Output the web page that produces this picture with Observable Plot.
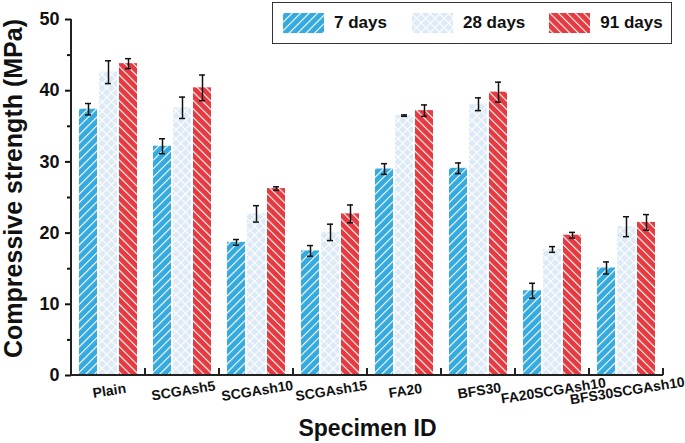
<!DOCTYPE html>
<html>
<head>
<meta charset="utf-8">
<script src="https://cdn.jsdelivr.net/npm/d3@7"></script>
<script src="https://cdn.jsdelivr.net/npm/@observablehq/plot@0.6"></script>
<style>
  body { margin: 0; background: #fff; font-family: "Liberation Sans", Arial, sans-serif; }
  #chart { position: relative; width: 685px; height: 443px; }
  #chart svg g[aria-label="y-axis tick label"] text { font-size: 18px; font-weight: bold; }
  #chart svg g[aria-label="y-axis label"] text { font-size: 25px; font-weight: bold; }
  #chart svg g[aria-label="fx-axis tick label"] text { font-size: 14px; font-weight: bold; }
  #chart svg g[aria-label="fx-axis label"] text { font-size: 23px; font-weight: bold; }
  #legend {
    position: absolute; left: 272px; top: 2px; width: 398px; height: 40px;
    border: 1.5px solid #333; background: #fff;
    display: flex; align-items: center;
    font-weight: bold; font-size: 17px; color: #111; white-space: nowrap;
  }
  #legend .item { display: flex; align-items: center; }
  #legend svg { margin-right: 10px; }
</style>
</head>
<body>
<div id="chart"></div>
<script>
const specimens = ["Plain", "SCGAsh5", "SCGAsh10", "SCGAsh15", "FA20", "BFS30", "FA20SCGAsh10", "BFS30SCGAsh10"];
const ages = ["7 days", "28 days", "91 days"];

const mean7 = [37.4, 32.2, 18.7, 17.5, 29.0, 29.1, 11.9, 15.1];
const mean28 = [42.6, 37.6, 22.7, 20.1, 36.5, 38.1, 17.7, 20.9];
const mean91 = [43.8, 40.4, 26.25, 22.7, 37.2, 39.8, 19.7, 21.5];

const sd7 = [0.8, 1.05, 0.4, 0.75, 0.75, 0.75, 1.05, 0.85];
const sd28 = [1.6, 1.5, 1.15, 1.15, 0.1, 0.9, 0.4, 1.4];
const sd91 = [0.7, 1.8, 0.25, 1.25, 0.8, 1.4, 0.4, 1.1];

const yTicks = [0, 10, 20, 30, 40, 50];
const yMinor = [5, 15, 25, 35, 45];

const colors = ["#35aade", "#dce9f6", "#e63a41"];
const patternIds = ["p7", "p28", "p91"];

const means = [mean7, mean28, mean91];
const sds = [sd7, sd28, sd91];
const rows = [];
specimens.forEach((s, i) => {
  ages.forEach((a, j) => {
    rows.push({ specimen: s, age: a, value: means[j][i], sd: sds[j][i] });
  });
});

const lo = d => d.value - d.sd;
const hi = d => d.value + d.sd;

const plot = Plot.plot({
  width: 685,
  height: 443,
  marginLeft: 70,
  marginRight: 22,
  marginTop: 19,
  marginBottom: 68,
  style: { fontFamily: "Liberation Sans, Arial, sans-serif", background: "#fff", color: "#111" },
  fx: { domain: specimens, padding: 0 },
  x: { domain: ages, paddingInner: 0.08, paddingOuter: 0.33, axis: null },
  y: { domain: [0, 50] },
  color: { domain: ages, range: patternIds.map(id => `url(#${id})`) },
  marks: [
    Plot.barY(rows, { fx: "specimen", x: "age", y: "value", fill: "age" }),
    Plot.ruleX(rows, { fx: "specimen", x: "age", y1: lo, y2: hi, stroke: "#111", strokeWidth: 1.5 }),
    Plot.tickY(rows, { fx: "specimen", x: "age", y: lo, stroke: "#111", strokeWidth: 1.5, insetLeft: 6, insetRight: 6 }),
    Plot.tickY(rows, { fx: "specimen", x: "age", y: hi, stroke: "#111", strokeWidth: 1.5, insetLeft: 6, insetRight: 6 }),
    Plot.axisY({ ticks: yTicks, tickSize: 6, tickPadding: 6, strokeWidth: 2, label: "Compressive strength (MPa)", labelAnchor: "center", labelArrow: "none", labelOffset: 67 }),
    Plot.axisY({ ticks: yMinor, tickSize: 4, strokeWidth: 2, tickFormat: () => "", label: null }),
    Plot.axisFx({ anchor: "bottom", tickSize: 0, tickRotate: -9, textAnchor: "middle", tickPadding: 10, label: "Specimen ID", labelAnchor: "center", labelArrow: "none", labelOffset: 60 })
  ]
});

// patterns, spines and group ticks
const svg = d3.select(plot);
const defs = svg.insert("defs", ":first-child");
function hatch(id, color, angle, size, cross) {
  const p = defs.append("pattern")
    .attr("id", id)
    .attr("patternUnits", "userSpaceOnUse")
    .attr("width", size).attr("height", size)
    .attr("patternTransform", `rotate(${angle})`);
  p.append("rect").attr("width", size).attr("height", size).attr("fill", color);
  p.append("line").attr("x1", 0).attr("y1", 0).attr("x2", 0).attr("y2", size)
    .attr("stroke", "#fff").attr("stroke-width", 2.2);
  if (cross) {
    p.append("line").attr("x1", 0).attr("y1", 0).attr("x2", size).attr("y2", 0)
      .attr("stroke", "#fff").attr("stroke-width", 2.2);
  }
}
hatch("p7", colors[0], 45, 6, false);
hatch("p28", colors[1], 45, 6.5, true);
hatch("p91", colors[2], -45, 6, false);

const fx = plot.scale("fx");
const y = plot.scale("y");
const x0 = fx.apply(specimens[0]);
const x1 = fx.apply(specimens[specimens.length - 1]) + fx.bandwidth;
const spines = svg.append("g").attr("stroke", "#222").attr("stroke-width", 2).attr("fill", "none");
spines.append("line").attr("x1", x0).attr("x2", x0).attr("y1", y.apply(50)).attr("y2", y.apply(0) + 1);
spines.append("line").attr("x1", x0 - 1).attr("x2", x1).attr("y1", y.apply(0)).attr("y2", y.apply(0));
specimens.forEach(s => {
  const xe = fx.apply(s) + fx.bandwidth;
  spines.append("line").attr("x1", xe).attr("x2", xe).attr("y1", y.apply(0)).attr("y2", y.apply(0) - 7);
});

// the y title sits a little above the middle in the original
svg.select('g[aria-label="y-axis label"]')
  .attr("transform", function () { return "translate(0,-9) " + (this.getAttribute("transform") || ""); });

const chart = document.getElementById("chart");
chart.appendChild(plot);

// legend
const legend = document.createElement("div");
legend.id = "legend";
const gaps = [10, 25, 24];
ages.forEach((a, j) => {
  const item = document.createElement("div");
  item.className = "item";
  item.style.marginLeft = gaps[j] + "px";
  item.innerHTML = `<svg width="41" height="20"><rect width="41" height="20" fill="url(#${patternIds[j]})"/></svg><span>${a}</span>`;
  legend.appendChild(item);
});
chart.appendChild(legend);
</script>
</body>
</html>
